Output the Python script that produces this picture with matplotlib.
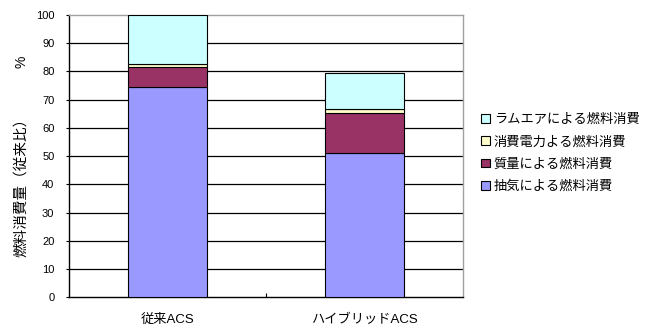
import matplotlib
matplotlib.use("Agg")
import matplotlib.pyplot as plt
import numpy as np

categories = ["従来ACS", "ハイブリッドACS"]
series_names = ["抽気による燃料消費", "質量による燃料消費", "消費電力よる燃料消費", "ラムエアによる燃料消費"]
bleed = [74.4, 51.2]
mass = [7.3, 14.2]
power = [1.1, 1.4]
ramair = [17.2, 12.5]
y_ticks = [0, 10, 20, 30, 40, 50, 60, 70, 80, 90, 100]
colors = ["#9999FF", "#993366", "#FFFFCC", "#CCFFFF"]

fam = ["Liberation Sans", "Noto Sans CJK JP"]
plt.rcParams["font.family"] = fam

fig = plt.figure(figsize=(6.47, 3.29), dpi=100)
ax = fig.add_axes([69/647, 1-297.3/329, (463-69)/647, (297.3-15)/329])

x = np.arange(len(categories))
bottom = np.zeros(len(categories))
handles = []
for vals, c, name in zip([bleed, mass, power, ramair], colors, series_names):
    h = ax.bar(x, vals, width=0.4, bottom=bottom, color=c, edgecolor="black",
               linewidth=0.8, label=name, zorder=3)
    handles.append(h)
    bottom = bottom + np.array(vals)

ax.set_xlim(-0.5, 1.5)
ax.set_ylim(0, 100)
ax.set_yticks(y_ticks)
ax.set_yticklabels([str(t) for t in y_ticks], fontsize=8)
for t in y_ticks[1:-1]:
    ax.axhline(t, color="black", linewidth=0.9, zorder=1)
ax.tick_params(axis="y", direction="out", length=2.5, width=0.8, pad=8, color="black")
ax.set_xticks(x)
ax.set_xticklabels(categories, fontsize=9.5)
ax.tick_params(axis="x", length=0, pad=12)
ax.set_xticks([0.5], minor=True)
ax.tick_params(axis="x", which="minor", direction="in", length=3, width=0.8)

for s in ["top", "right"]:
    ax.spines[s].set_color("#a0a0a0")
    ax.spines[s].set_linewidth(1.0)
for s in ["left", "bottom"]:
    ax.spines[s].set_color("black")
    ax.spines[s].set_linewidth(1.0)

fig.text(21/647, 1-184/329, "燃料消費量（従来比）", rotation=90, ha="center", va="center", fontsize=10.5)
fig.text(21/647, 1-62/329, "%", rotation=90, ha="center", va="center", fontsize=10)

leg = fig.legend(handles[::-1], series_names[::-1], loc="center left",
                 bbox_to_anchor=(472/647, 1-153.5/329), frameon=False,
                 fontsize=9.5, handlelength=0.65, handleheight=0.65,
                 handletextpad=0.3, labelspacing=0.75, borderpad=0.2)

fig.savefig("out.png", dpi=100)
